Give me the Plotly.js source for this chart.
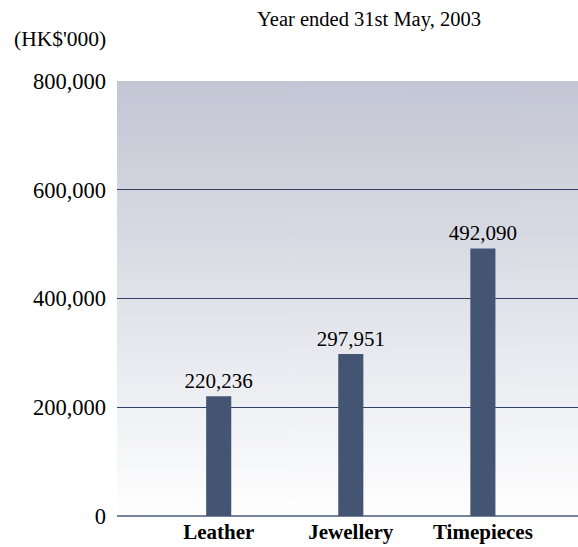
<!DOCTYPE html>
<html><head><meta charset="utf-8">
<script src="https://cdn.plot.ly/plotly-3.0.1.min.js"></script>
<style>html,body{margin:0;padding:0;background:#fff}#chart{width:578px;height:547px}</style>
</head><body><div id="chart"></div>
<script>
const categories = ['Leather', 'Jewellery', 'Timepieces'];
const values = [220236, 297951, 492090];
const valueLabels = ['220,236', '297,951', '492,090'];
const tickValues = [0, 200000, 400000, 600000, 800000];
const tickLabels = ['0', '200,000', '400,000', '600,000', '800,000'];
const titleText = 'Year ended 31st May, 2003';
const unitText = "(HK$'000)";

// vertical gradient for the plot background
const cv = document.createElement('canvas');
cv.width = 4; cv.height = 400;
const ctx = cv.getContext('2d');
const grad = ctx.createLinearGradient(0, 0, 0, 400);
grad.addColorStop(0, '#c3c6d4');
grad.addColorStop(1, '#ffffff');
ctx.fillStyle = grad;
ctx.fillRect(0, 0, 4, 400);
const bgImage = cv.toDataURL();

const serif = 'Liberation Serif';

const trace = {
  type: 'bar',
  x: categories,
  y: values,
  text: valueLabels,
  texttemplate: '%{text}',
  textposition: 'outside',
  constraintext: 'none',
  cliponaxis: false,
  width: 0.19,
  marker: {color: '#445574', line: {width: 0}},
  textfont: {family: serif, size: 21, color: '#000'},
  hoverinfo: 'none'
};

const layout = {
  width: 578, height: 547,
  margin: {l: 117, r: 0, t: 81, b: 31},
  paper_bgcolor: '#ffffff',
  plot_bgcolor: 'rgba(0,0,0,0)',
  showlegend: false,
  title: {
    text: titleText,
    font: {family: serif, size: 20.5, color: '#000'},
    x: 369 / 578, xanchor: 'center', xref: 'container',
    y: 1 - 19 / 547, yanchor: 'middle', yref: 'container'
  },
  xaxis: {
    type: 'category',
    range: [-0.77, 2.72],
    showgrid: false, zeroline: false, showline: false, ticks: '',
    ticklabelstandoff: 1,
    tickfont: {family: serif, size: 21, color: '#000', weight: 'bold'},
    fixedrange: true
  },
  yaxis: {
    range: [0, 800000],
    tickvals: tickValues,
    ticktext: tickLabels,
    showgrid: true, gridcolor: '#2f4164', gridwidth: 1.2,
    zeroline: true, zerolinecolor: '#76839a', zerolinewidth: 1.6,
    showline: false, ticks: '',
    ticklabelstandoff: 10,
    tickfont: {family: serif, size: 22.5, color: '#000'},
    fixedrange: true
  },
  images: [{
    source: bgImage, xref: 'paper', yref: 'paper',
    x: 0, y: 1, sizex: 1, sizey: 1, sizing: 'stretch',
    xanchor: 'left', yanchor: 'top', layer: 'below'
  }],
  annotations: [{
    text: unitText, showarrow: false,
    xref: 'paper', yref: 'paper',
    x: (108 - 117) / 461, xanchor: 'right',
    y: (515.5 - 39) / 434.5, yanchor: 'middle',
    font: {family: serif, size: 21.5, color: '#000'}
  }]
};

Plotly.newPlot('chart', [trace], layout, {displayModeBar: false, staticPlot: true});
</script>
</body></html>
